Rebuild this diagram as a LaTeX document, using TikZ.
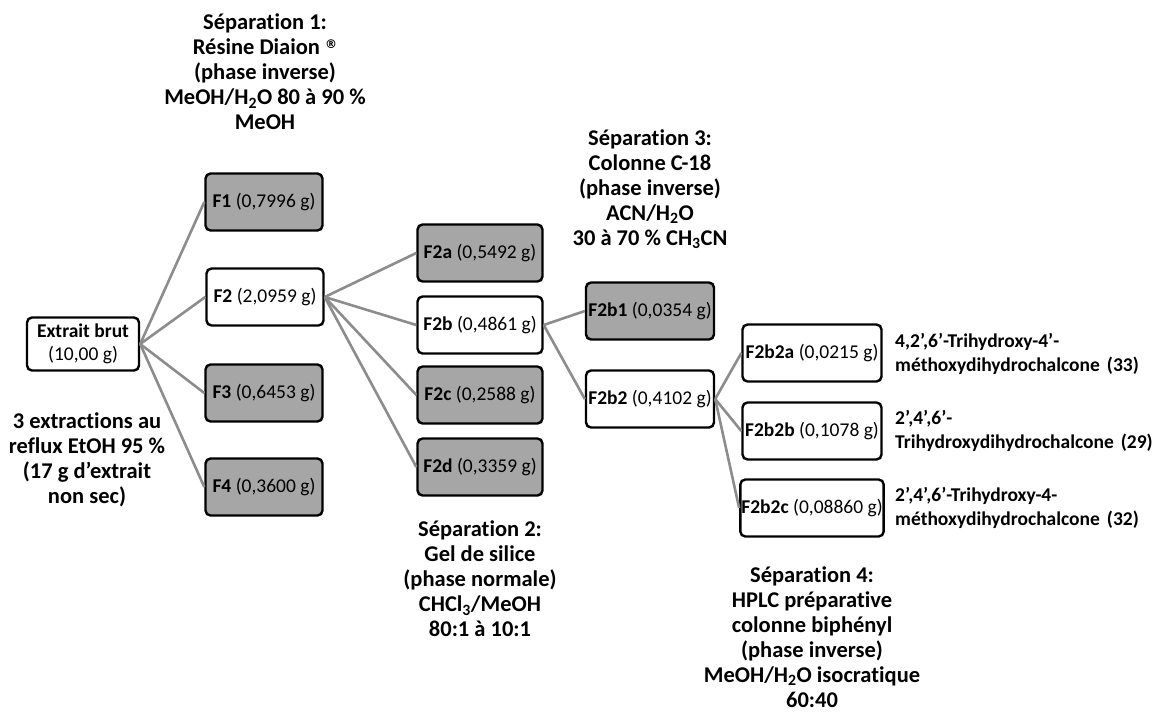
\documentclass[tikz,border=0pt]{standalone}
\usepackage{fontspec}
\setmainfont[Ligatures=NoCommon]{Carlito}
\newfontfamily\symfont{DejaVu Sans}
\definecolor{boxgray}{RGB}{166,166,166}
\definecolor{linkgray}{RGB}{140,140,140}
\newcommand{\regmark}{{\symfont\fontsize{12}{12}\selectfont\raisebox{6pt}{®}}}

\begin{document}
\begin{tikzpicture}[x=1pt,y=-1pt,
                    frac node/.style={rectangle,draw,rounded corners=5pt,line width=2.4pt,
                      inner sep=1pt,minimum height=57pt,font=\fontsize{19.5}{23}\selectfont,fill=white},
                    grey node/.style={frac node,fill=boxgray},
                    note/.style={align=center,inner sep=1pt,font=\bfseries\fontsize{22.5}{25}\selectfont},
                    compound/.style={anchor=west,align=left,inner sep=0pt,font=\bfseries\fontsize{19.5}{24.5}\selectfont}]
  \useasboundingbox (0,0) rectangle (1154,713);
  % fractions
  \node[frac node,minimum width=112pt,minimum height=53pt,align=center] (brut) at (83,344)
    {\textbf{Extrait brut}\\(10,00 g)};
  \node[grey node,minimum width=117pt] (F1) at (264,202) {\textbf{F1} (0,7996 g)};
  \node[frac node,minimum width=117pt] (F2) at (265,297) {\textbf{F2} (2,0959 g)};
  \node[grey node,minimum width=117pt] (F3) at (264,393) {\textbf{F3} (0,6453 g)};
  \node[grey node,minimum width=117pt] (F4) at (264,487) {\textbf{F4} (0,3600 g)};
  \node[grey node,minimum width=125pt] (F2a) at (480,253) {\textbf{F2a} (0,5492 g)};
  \node[frac node,minimum width=125pt] (F2b) at (480,325) {\textbf{F2b} (0,4861 g)};
  \node[grey node,minimum width=125pt] (F2c) at (480,395) {\textbf{F2c} (0,2588 g)};
  \node[grey node,minimum width=125pt] (F2d) at (480,467) {\textbf{F2d} (0,3359 g)};
  \node[grey node,minimum width=128pt] (F2b1) at (650,311) {\textbf{F2b1} (0,0354 g)};
  \node[frac node,minimum width=128pt] (F2b2) at (650,399) {\textbf{F2b2} (0,4102 g)};
  \node[frac node,minimum width=139pt] (F2b2a) at (812,353) {\textbf{F2b2a} (0,0215 g)};
  \node[frac node,minimum width=139pt] (F2b2b) at (812,431) {\textbf{F2b2b} (0,1078 g)};
  \node[frac node,minimum width=139pt] (F2b2c) at (812,508) {\textbf{F2b2c} (0,08860 g)};
  % compounds
  \node[compound] (c33) at (895,354) {4,2’,6’-Trihydroxy-4’-\\méthoxydihydrochalcone\hspace{7pt}(33)};
  \node[compound] (c29) at (895,431) {2’,4’,6’-\\Trihydroxydihydrochalcone\hspace{7pt}(29)};
  \node[compound] (c32) at (895,508) {2’,4’,6’-Trihydroxy-4-\\méthoxydihydrochalcone\hspace{7pt}(32)};
  % separations
  \node[note] (sep1) at (265,72) {Séparation 1:\\Résine Diaion \regmark\\(phase inverse)\\MeOH/H\textsubscript{2}O 80 à 90 \%\\MeOH};
  \node[note] (sep2) at (480,579) {Séparation 2:\\Gel de silice\\(phase normale)\\CHCl\textsubscript{3}/MeOH\\80:1 à 10:1};
  \node[note] (sep3) at (650,189) {Séparation 3:\\Colonne C-18\\(phase inverse)\\ACN/H\textsubscript{2}O\\30 à 70 \% CH\textsubscript{3}CN};
  \node[note] (sep4) at (812,637) {Séparation 4:\\HPLC préparative\\colonne biphényl\\(phase inverse)\\MeOH/H\textsubscript{2}O isocratique\\60:40};
  \node[note] (extr) at (87,460) {3 extractions au\\reflux EtOH 95 \%\\(17 g d’extrait\\non sec)};
  % links
  \begin{scope}[on background layer/.try]
  \path[draw=linkgray,line width=2.6pt]
    (brut.east) edge (F1.west)
    (brut.east) edge (F2.west)
    (brut.east) edge (F3.west)
    (brut.east) edge (F4.west)
    (F2.east) edge (F2a.west)
    (F2.east) edge (F2b.west)
    (F2.east) edge (F2c.west)
    (F2.east) edge (F2d.west)
    (F2b.east) edge (F2b1.west)
    (F2b.east) edge (F2b2.west)
    (F2b2.east) edge (F2b2a.west)
    (F2b2.east) edge (F2b2b.west)
    (F2b2.east) edge (F2b2c.west)
    ;
  \end{scope}
\end{tikzpicture}
\end{document}
